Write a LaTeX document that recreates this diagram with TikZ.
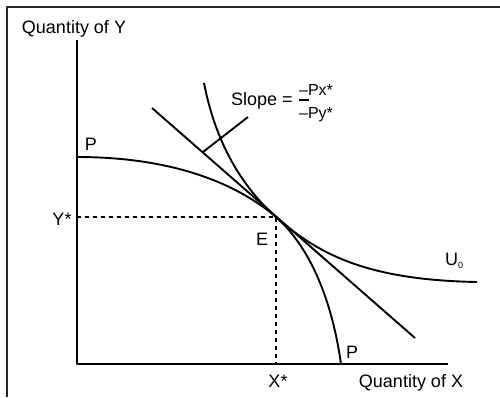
\documentclass[tikz,border=0pt]{standalone}
\usepackage{fontspec}
\setmainfont{Liberation Sans}
\usetikzlibrary{positioning}

\begin{document}
\begin{tikzpicture}[x=1pt, y=-1pt, line join=round,
  curve/.style={line width=1.9pt},
  guide/.style={line width=1.8pt, dash pattern=on 4pt off 4pt},
  lbl/.style={anchor=base, inner sep=0pt, font=\fontsize{18}{20}\selectfont}]
\useasboundingbox (0,0) rectangle (500,397);
% frame
\draw[line width=1.8pt, black!85] (7,397) -- (7,7) -- (500,7);
% axes
\coordinate (O) at (77,364);
\coordinate (ytop) at (77,40);
\coordinate (xend) at (448,364);
\draw[curve] (ytop) -- (O) -- (xend);
% equilibrium and guides
\coordinate (E) at (276,217);
\draw[guide] (O |- E) -- (E) -- (E |- O);
% production possibility frontier
\coordinate (Ptop) at (77,157);
\coordinate (Pbot) at (341,364);
\draw[curve] (Ptop) .. controls (170,157) and (235,182) .. (E)
  .. controls (310,247) and (332,300) .. (Pbot);
% indifference curve
\coordinate (Utop) at (204,83);
\coordinate (Uend) at (477,282);
\draw[curve] (Utop) .. controls (215,140) and (240,185) .. (E)
  .. controls (320,256) and (370,280) .. (Uend);
% price line and pointer
\coordinate (Ta) at (152,108);
\coordinate (Tb) at (415,338);
\draw[curve] (Ta) -- (Tb);
\coordinate (Sa) at (203,152);
\coordinate (Sb) at (248,117);
\draw[curve] (Sa) -- (Sb);
% labels
\node[lbl] (qy) at (74,33) {Quantity of Y};
\node[lbl] (qx) at (411,387) {Quantity of X};
\node[lbl] (xs) at (278,387) {X*};
\node[lbl] (ys) at (62,225) {Y*};
\node[lbl] (pt) at (91,150) {P};
\node[lbl] (pb) at (352,358) {P};
\node[lbl] (el) at (262,245) {E};
\node[lbl, anchor=base west] (u0) at (445,265) {U\raisebox{-3pt}{\fontsize{9}{9}\selectfont 0}};
\node[lbl] (sl) at (262,105) {Slope =};
\node[lbl, font=\fontsize{16}{18}\selectfont] (num) at (316,95) {–Px*};
\node[lbl, font=\fontsize{16}{18}\selectfont] (den) at (316,118) {–Py*};
\draw[line width=1.2pt] (299,100) -- (309,100);
\end{tikzpicture}
\end{document}
